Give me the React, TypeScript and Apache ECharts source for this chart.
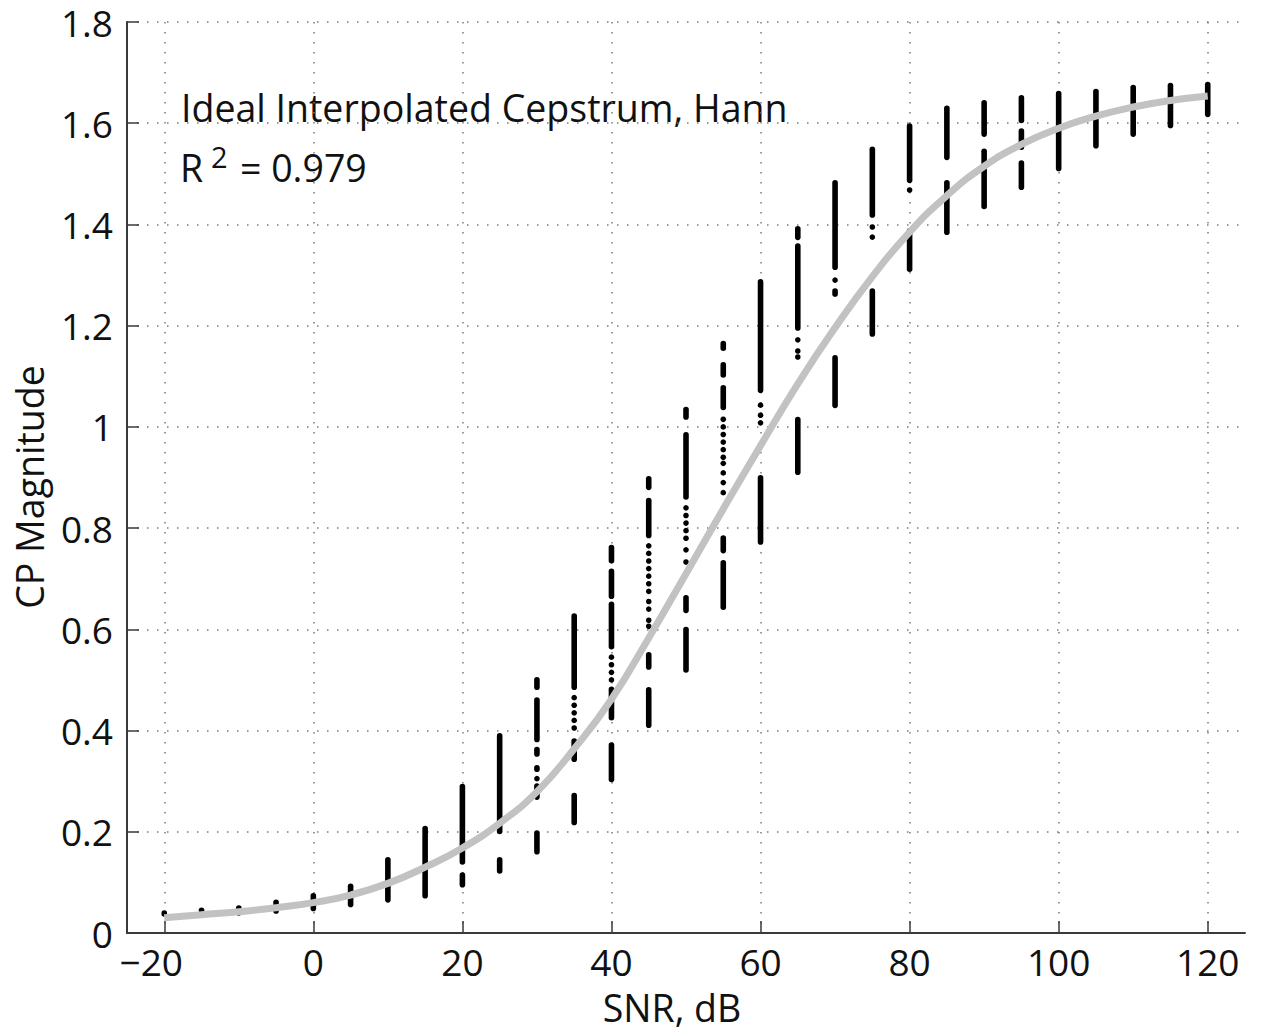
import React, { useEffect, useRef } from "react";
import * as echarts from "echarts";

// ---- axis ticks ----
const snrTicks = [-20, 0, 20, 40, 60, 80, 100, 120];
const snrMin = -25;
const snrMax = 125;
const magMin = 0;
const magMax = 1.8;
const magStep = 0.2;

// ---- fitted sigmoid (gray curve), read at every 5 dB ----
const curveSnr = [-20, -15, -10, -5, 0, 5, 10, 15, 20, 25, 30, 35, 40, 45, 50, 55, 60, 65, 70, 75, 80, 85, 90, 95, 100, 105, 110, 115, 120];
const curveMag = [0.03, 0.036, 0.042, 0.05, 0.06, 0.075, 0.098, 0.13, 0.168, 0.217, 0.279, 0.364, 0.462, 0.583, 0.71, 0.838, 0.963, 1.085, 1.196, 1.297, 1.385, 1.457, 1.515, 1.558, 1.59, 1.614, 1.632, 1.645, 1.654];

// ---- measured points: dense runs of dots [snr, low, high] ----
const denseRuns: [number, number, number][] = [
  [-20, 0.032, 0.045],
  [-15, 0.04, 0.05],
  [-10, 0.034, 0.055],
  [-5, 0.038, 0.066],
  [0, 0.043, 0.079],
  [5, 0.051, 0.098],
  [10, 0.06, 0.15],
  [15, 0.068, 0.212],
  [20, 0.09, 0.12], [20, 0.135, 0.295],
  [25, 0.117, 0.15], [25, 0.195, 0.395],
  [30, 0.155, 0.203], [30, 0.263, 0.296], [30, 0.318, 0.332], [30, 0.348, 0.368], [30, 0.377, 0.466], [30, 0.48, 0.506],
  [35, 0.213, 0.277], [35, 0.338, 0.385], [35, 0.48, 0.632],
  [40, 0.298, 0.377], [40, 0.42, 0.487], [40, 0.56, 0.655], [40, 0.66, 0.72], [40, 0.73, 0.767],
  [45, 0.405, 0.486], [45, 0.52, 0.555], [45, 0.78, 0.86], [45, 0.875, 0.903],
  [50, 0.514, 0.605], [50, 0.632, 0.668], [50, 0.856, 0.99], [50, 1.014, 1.04],
  [55, 0.638, 0.737], [55, 0.75, 0.786], [55, 1.033, 1.083], [55, 1.097, 1.128], [55, 1.15, 1.17],
  [60, 0.767, 0.905], [60, 1.067, 1.292],
  [65, 0.905, 1.02], [65, 1.19, 1.363], [65, 1.369, 1.397],
  [70, 1.037, 1.142], [70, 1.257, 1.274], [70, 1.31, 1.488],
  [75, 1.178, 1.274], [75, 1.413, 1.554],
  [80, 1.306, 1.393], [80, 1.482, 1.6],
  [85, 1.379, 1.488], [85, 1.527, 1.635],
  [90, 1.43, 1.55], [90, 1.573, 1.646],
  [95, 1.468, 1.527], [95, 1.547, 1.59], [95, 1.6, 1.656],
  [100, 1.505, 1.664],
  [105, 1.55, 1.668],
  [110, 1.573, 1.676],
  [115, 1.59, 1.68],
  [120, 1.612, 1.682],
];

// ---- measured points: isolated dots [snr, value] ----
const isolatedDots: [number, number][] = [
  [30, 0.305],
  [35, 0.465], [35, 0.45], [35, 0.435], [35, 0.42], [35, 0.405],
  [40, 0.545], [40, 0.53], [40, 0.515], [40, 0.5],
  [45, 0.765], [45, 0.75], [45, 0.735], [45, 0.72], [45, 0.705], [45, 0.69], [45, 0.675], [45, 0.655], [45, 0.64], [45, 0.618], [45, 0.606],
  [50, 0.84], [50, 0.825], [50, 0.81], [50, 0.795], [50, 0.78], [50, 0.757], [50, 0.733],
  [55, 1.015], [55, 1.0], [55, 0.985], [55, 0.97], [55, 0.955], [55, 0.94], [55, 0.928], [55, 0.909], [55, 0.89], [55, 0.87],
  [60, 1.043], [60, 1.023], [60, 1.008],
  [65, 1.172], [65, 1.15], [65, 1.138],
  [70, 1.29],
  [75, 1.395], [75, 1.375],
  [80, 1.468],
];

const FONT = "'Open Sans', 'Noto Sans', sans-serif";
const TEXT_COLOR = "#111";
const AXIS_COLOR = "#3a3a3a";
const TICK_FS = 37;
const TEXT_FS = 37.5;

export default function App() {
  const ref = useRef<HTMLDivElement>(null);

  useEffect(() => {
    document.body.style.margin = "0";
    const chart = echarts.init(ref.current as HTMLDivElement, undefined, { renderer: "svg" });
    const dotR = 2.8;
    const gridLine = {
      show: true,
      lineStyle: { color: "#7a7a7a", width: 1.5, type: [1.5, 8.5] },
    };

    chart.setOption({
      animation: false,
      backgroundColor: "#ffffff",
      grid: { left: 127, top: 22, width: 1118, height: 911, containLabel: false },
      xAxis: {
        type: "value",
        min: snrMin,
        max: snrMax,
        axisLine: { show: true, onZero: false, lineStyle: { color: AXIS_COLOR, width: 2 } },
        axisTick: { show: true, inside: true, length: 12, customValues: snrTicks, lineStyle: { color: AXIS_COLOR, width: 1.5 } },
        axisLabel: {
          customValues: snrTicks,
          formatter: (v: number) => (v < 0 ? `{neg|\u2212${-v}}` : `${v}`),
          margin: 10,
          fontSize: TICK_FS,
          lineHeight: 36,
          fontFamily: FONT,
          color: TEXT_COLOR,
          rich: { neg: { fontSize: TICK_FS, lineHeight: 36, fontFamily: FONT, color: TEXT_COLOR, padding: [0, 26, 0, 0] } },
        },
        splitLine: gridLine,
      },
      yAxis: {
        type: "value",
        min: magMin,
        max: magMax,
        interval: magStep,
        axisLine: { show: true, onZero: false, lineStyle: { color: AXIS_COLOR, width: 2 } },
        axisTick: { show: true, inside: true, length: 12, lineStyle: { color: AXIS_COLOR, width: 1.5 } },
        axisLabel: { margin: 14, fontSize: TICK_FS, lineHeight: 36, fontFamily: FONT, color: TEXT_COLOR },
        splitLine: gridLine,
      },
      series: [
        {
          type: "custom",
          dimensions: ["snr", "lo", "hi"],
          encode: { x: 0, y: [1, 2] },
          data: denseRuns,
          z: 2,
          renderItem: (_params: any, api: any) => {
            const x = api.value(0);
            const p1 = api.coord([x, api.value(1)]);
            const p2 = api.coord([x, api.value(2)]);
            let y1 = p1[1] - dotR;
            let y2 = p2[1] + dotR;
            if (y1 < y2) {
              const m = (p1[1] + p2[1]) / 2;
              y1 = m;
              y2 = m + 0.01;
            }
            return {
              type: "line",
              shape: { x1: p1[0], y1, x2: p2[0], y2 },
              style: { stroke: "#000", lineWidth: dotR * 2, lineCap: "round" },
            };
          },
        },
        {
          type: "scatter",
          data: isolatedDots,
          symbol: "circle",
          symbolSize: dotR * 2,
          itemStyle: { color: "#000", opacity: 1 },
          z: 2,
        },
        {
          type: "line",
          data: curveSnr.map((s, i) => [s, curveMag[i]]),
          smooth: true,
          showSymbol: false,
          lineStyle: { color: "#c2c2c2", width: 7 },
          z: 5,
        },
      ],
      graphic: [
        {
          type: "text",
          x: 181,
          y: 107,
          style: { text: "Ideal Interpolated Cepstrum, Hann", fontSize: TEXT_FS, fontFamily: FONT, fill: TEXT_COLOR, align: "left", verticalAlign: "middle" },
        },
        {
          type: "text",
          x: 180,
          y: 167,
          style: { text: "R", fontSize: TEXT_FS, fontFamily: FONT, fill: TEXT_COLOR, align: "left", verticalAlign: "middle" },
        },
        {
          type: "text",
          x: 211,
          y: 156,
          style: { text: "2", fontSize: 29, fontFamily: FONT, fill: TEXT_COLOR, align: "left", verticalAlign: "middle" },
        },
        {
          type: "text",
          x: 240,
          y: 167,
          style: { text: "= 0.979", fontSize: TEXT_FS, fontFamily: FONT, fill: TEXT_COLOR, align: "left", verticalAlign: "middle" },
        },
        {
          type: "text",
          x: 672,
          y: 1007,
          style: { text: "SNR, dB", fontSize: TEXT_FS, lineHeight: 36, fontFamily: FONT, fill: TEXT_COLOR, align: "center", verticalAlign: "middle" },
        },
        {
          type: "text",
          x: 29,
          y: 487,
          rotation: Math.PI / 2,
          style: { text: "CP Magnitude", fontSize: TEXT_FS, fontFamily: FONT, fill: TEXT_COLOR, align: "center", verticalAlign: "middle" },
        },
      ],
    });

    return () => chart.dispose();
  }, []);

  return <div ref={ref} style={{ width: 1262, height: 1032 }} />;
}
